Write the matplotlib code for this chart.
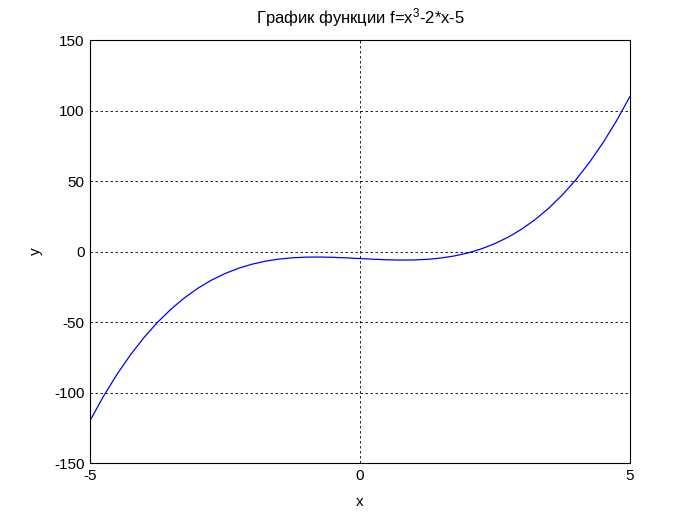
import matplotlib
matplotlib.use("Agg")
import matplotlib.pyplot as plt

# Points
x_vals = [-5.0, -4.75, -4.5, -4.25, -4.0, -3.75, -3.5, -3.25, -3.0, -2.75,
          -2.5, -2.25, -2.0, -1.75, -1.5, -1.25, -1.0, -0.75, -0.5, -0.25,
          0.0, 0.25, 0.5, 0.75, 1.0, 1.25, 1.5, 1.75, 2.0, 2.25,
          2.5, 2.75, 3.0, 3.25, 3.5, 3.75, 4.0, 4.25, 4.5, 4.75, 5.0]
y_vals = [-120.0, -102.67, -87.13, -73.27, -61.0, -50.23, -40.88, -32.83, -26.0, -20.30,
          -15.63, -11.89, -9.0, -6.86, -5.38, -4.45, -4.0, -3.92, -4.13, -4.52,
          -5.0, -5.48, -5.88, -6.08, -6.0, -5.55, -4.63, -3.14, -1.0, 1.89,
          5.63, 10.30, 16.0, 22.83, 30.88, 40.23, 51.0, 63.27, 77.13, 92.67, 110.0]

x_ticks = [-5, 0, 5]
y_ticks = [-150, -100, -50, 0, 50, 100, 150]

plt.rcParams["font.family"] = ["Liberation Sans", "DejaVu Sans"]
plt.rcParams["mathtext.default"] = "regular"
plt.rcParams["axes.unicode_minus"] = False

fig = plt.figure(figsize=(6.97, 5.22), dpi=100)
ax = fig.add_axes([90 / 697, 1 - 463 / 522, 540 / 697, 423 / 522])

ax.plot(x_vals, y_vals, color="#0000ff", linewidth=0.9)

ax.set_xlim(-5, 5)
ax.set_ylim(-150, 150)
ax.set_xticks(x_ticks)
ax.set_yticks(y_ticks)
ax.tick_params(direction="in", length=0, labelsize=11, pad=4)
ax.grid(True, color="black", linestyle=(0, (3, 3)), linewidth=0.6)

for s in ax.spines.values():
    s.set_linewidth(0.8)

ax.set_xlabel("x", fontsize=11, labelpad=9)
ax.set_ylabel("y", fontsize=11, labelpad=8)
ax.set_title("График функции f=x$^{3}$-2*x-5", fontsize=12, pad=12)

fig.savefig("out.png", dpi=100)
